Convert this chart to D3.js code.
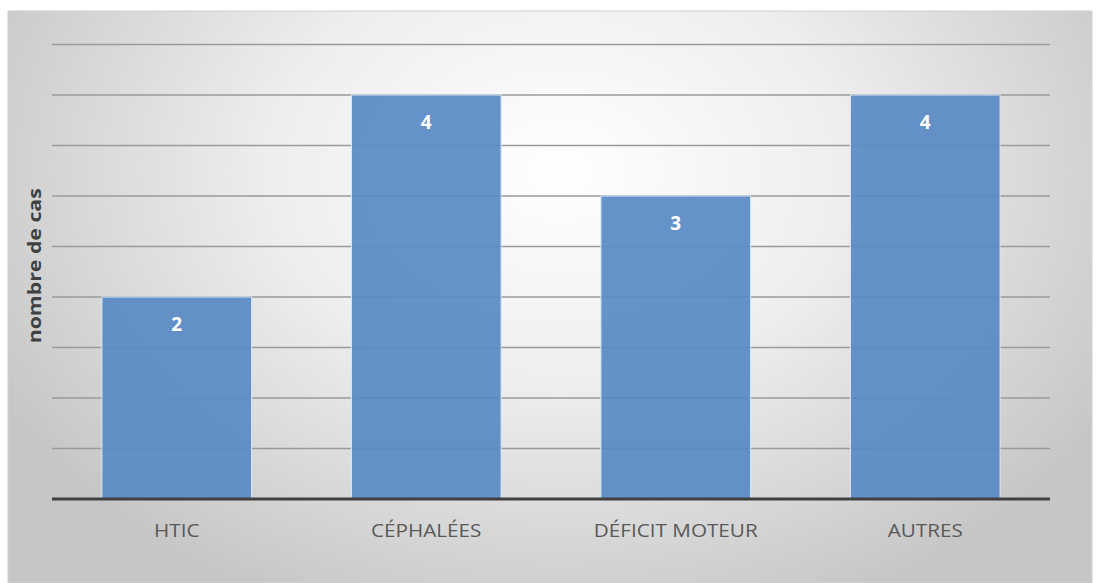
<!DOCTYPE html>
<html>
<head>
<meta charset="utf-8">
<script src="https://cdn.jsdelivr.net/npm/d3@7"></script>
<style>
  html, body { margin: 0; padding: 0; background: #ffffff; }
  svg { display: block; }
</style>
</head>
<body>
<svg id="chart" width="1099" height="583"></svg>
<script>
// Symptom categories and case counts
const categories = ["HTIC", "CÉPHALÉES", "DÉFICIT MOTEUR", "AUTRES"];
const values = [2, 4, 3, 4];
const gridTicks = [0.5, 1, 1.5, 2, 2.5, 3, 3.5, 4, 4.5];
const yTitle = "nombre de cas";

const svg = d3.select("#chart");
const FONT = "'Open Sans', 'Liberation Sans', sans-serif";

// Chart-area frame and plot area
const frame = { x: 8, y: 11, w: 1084, h: 572 };
const plot = { left: 52, right: 1050, top: 44.5, bottom: 499 };

const defs = svg.append("defs");
const grad = defs.append("radialGradient")
  .attr("id", "bg")
  .attr("gradientUnits", "userSpaceOnUse")
  .attr("cx", 560).attr("cy", 170).attr("r", 640)
  .attr("gradientTransform", "translate(560,170) scale(1,0.75) translate(-560,-170)");
grad.append("stop").attr("offset", "0%").attr("stop-color", "#ffffff");
grad.append("stop").attr("offset", "45%").attr("stop-color", "#eeeeee");
grad.append("stop").attr("offset", "100%").attr("stop-color", "#c6c6c6");

svg.append("rect")
  .attr("x", frame.x).attr("y", frame.y)
  .attr("width", frame.w).attr("height", frame.h)
  .attr("fill", "url(#bg)")
  .attr("stroke", "#d0d0d0").attr("stroke-width", 1);

const x = d3.scaleBand()
  .domain(categories)
  .range([plot.left, plot.right])
  .paddingInner(0.4)
  .paddingOuter(0.2);

const y = d3.scaleLinear()
  .domain([0, 4.5])
  .range([plot.bottom, plot.top]);

// Horizontal gridlines
svg.append("g")
  .selectAll("line")
  .data(gridTicks)
  .join("line")
  .attr("x1", plot.left).attr("x2", plot.right)
  .attr("y1", d => y(d)).attr("y2", d => y(d))
  .attr("stroke", "#9a9a9a")
  .attr("stroke-width", 1.6);

// Bars
svg.append("g")
  .selectAll("rect")
  .data(values)
  .join("rect")
  .attr("x", (d, i) => x(categories[i]))
  .attr("y", d => y(d))
  .attr("width", x.bandwidth())
  .attr("height", d => y(0) - y(d))
  .attr("fill", "#5a8ac6")
  .attr("fill-opacity", 0.93)
  .attr("stroke", "#dce8f6")
  .attr("stroke-width", 1);

// Value labels inside the bars
svg.append("g")
  .selectAll("text")
  .data(values)
  .join("text")
  .attr("x", (d, i) => x(categories[i]) + x.bandwidth() / 2)
  .attr("y", d => y(d) + 34)
  .attr("text-anchor", "middle")
  .attr("font-family", FONT)
  .attr("font-weight", "bold")
  .attr("font-size", 19)
  .attr("fill", "#ffffff")
  .text(d => d);

// Baseline axis with category labels
const xAxis = d3.axisBottom(x).tickSize(0).tickPadding(25);
const gx = svg.append("g")
  .attr("transform", `translate(0,${plot.bottom})`)
  .call(xAxis);
gx.select(".domain")
  .attr("d", `M${plot.left},0H${plot.right}`)
  .attr("stroke", "#404040")
  .attr("stroke-width", 3);
gx.selectAll("text")
  .attr("font-family", FONT)
  .attr("font-size", 18)
  .attr("fill", "#595959")
  .attr("transform", "scale(1.15,1)");

// Y-axis title
svg.append("text")
  .attr("transform", `translate(41,${(plot.top + plot.bottom) / 2 - 6}) rotate(-90)`)
  .attr("text-anchor", "middle")
  .attr("font-family", FONT)
  .attr("font-weight", "bold")
  .attr("font-size", 18)
  .attr("fill", "#404040")
  .attr("textLength", 155)
  .attr("lengthAdjust", "spacingAndGlyphs")
  .text(yTitle);
</script>
</body>
</html>
